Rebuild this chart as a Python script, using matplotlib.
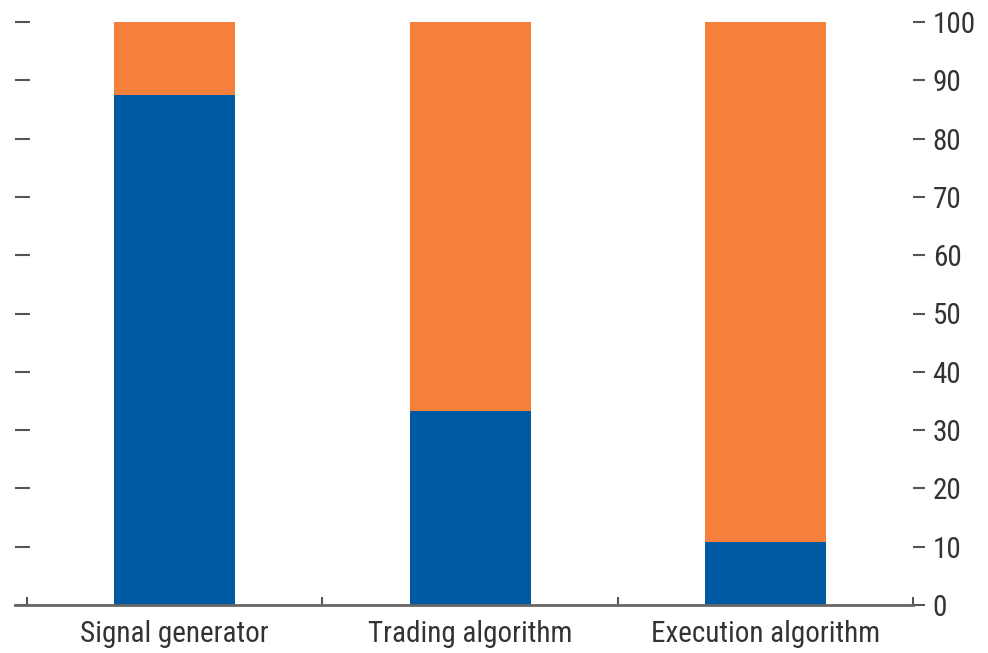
import matplotlib
matplotlib.use("Agg")
import matplotlib.pyplot as plt
from matplotlib import lines as mlines

categories = ["Signal generator", "Trading algorithm", "Execution algorithm"]
blue_vals = [87.5, 33.3, 10.8]
orange_vals = [12.5, 66.7, 89.2]
yticks = [0, 10, 20, 30, 40, 50, 60, 70, 80, 90, 100]

plt.rcParams["font.family"] = ["Roboto Condensed", "DejaVu Sans"]

BLUE = "#0059A3"
ORANGE = "#F4803C"
GRAY = "#555555"
TXT = "#333333"

fig = plt.figure(figsize=(9.88, 6.53), dpi=100)
ax = fig.add_axes([15.2 / 988, 48 / 653, 898 / 988, 583 / 653])

x = list(range(len(categories)))
w = 0.41
ax.bar(x, blue_vals, width=w, color=BLUE, zorder=2)
ax.bar(x, orange_vals, width=w, bottom=blue_vals, color=ORANGE, zorder=2)

ax.set_xlim(-0.54, 2.5)
ax.set_ylim(0, 100)

for s in ["top", "left", "right"]:
    ax.spines[s].set_visible(False)
ax.spines["bottom"].set_color("#666666")
ax.spines["bottom"].set_linewidth(2)
ax.spines["bottom"].set_zorder(3)

ax.set_xticks(x)
ax.set_xticklabels(categories, fontsize=21, color=TXT)
ax.tick_params(axis="x", which="major", length=0, pad=11)
ax.set_xticks([-0.5, 0.5, 1.5, 2.5], minor=True)
ax.tick_params(axis="x", which="minor", direction="in", length=6, width=1.5, color=GRAY)

ax.set_yticks(yticks)
ax.tick_params(axis="y", left=True, right=True, labelleft=False, labelright=True,
               direction="in", length=11, width=1.5, color=GRAY,
               labelsize=21, labelcolor=TXT, pad=14)
for t in ax.yaxis.get_major_ticks():
    t.tick2line.set_marker(mlines.TICKRIGHT)
    t.tick2line.set_markersize(8.5)

fig.savefig("out.png", dpi=100)
